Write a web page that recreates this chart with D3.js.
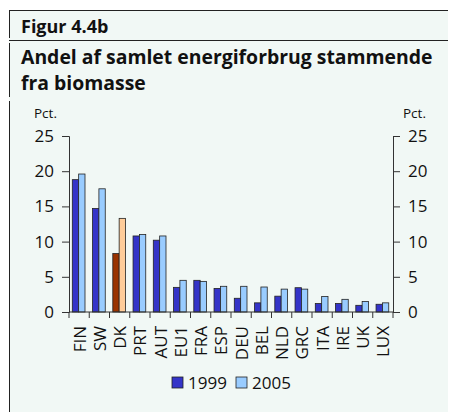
<!DOCTYPE html>
<html><head><meta charset="utf-8">
<script src="https://cdn.jsdelivr.net/npm/d3@7"></script>
<style>body{margin:0;background:#fff}svg{display:block}</style>
</head><body>
<svg id="c" width="454" height="412"></svg>
<script>
const categories = ["FIN","SW","DK","PRT","AUT","EU1","FRA","ESP","DEU","BEL","NLD","GRC","ITA","IRE","UK","LUX"];
const seriesNames = ["1999","2005"];
const values1999 = [18.8,14.7,8.3,10.8,10.2,3.5,4.5,3.35,1.95,1.3,2.25,3.45,1.2,1.2,0.95,1.1];
const values2005 = [19.6,17.5,13.3,11.0,10.8,4.5,4.35,3.65,3.65,3.55,3.25,3.25,2.2,1.8,1.5,1.3];
const yTicks = [0,5,10,15,20,25];
const highlight = "DK";

const svg = d3.select("#c");
const font = "'Open Sans', 'Noto Sans', sans-serif";
const colors = {"1999":"#3434c8","2005":"#99ccff"};
const hiColors = {"1999":"#993300","2005":"#ffcc99"};

// frame
svg.append("rect").attr("x",9).attr("y",10).attr("width",439).attr("height",402).attr("fill","#f1f8f5");
svg.append("line").attr("x1",9).attr("x2",448).attr("y1",10.5).attr("y2",10.5).attr("stroke","#222");
svg.append("line").attr("x1",9).attr("x2",448).attr("y1",40.5).attr("y2",40.5).attr("stroke","#222");
[[10,38],[43,97],[101,412]].forEach(([a,b])=>svg.append("line").attr("x1",9.5).attr("x2",9.5).attr("y1",a).attr("y2",b).attr("stroke","#222"));

svg.append("text").attr("x",21).attr("y",33).attr("font-family",font).attr("font-weight","bold").attr("font-size",18).attr("fill","#111").text("Figur 4.4b");
svg.append("text").attr("x",21).attr("y",64).attr("font-family",font).attr("font-weight","bold").attr("font-size",19.4).attr("fill","#111").text("Andel af samlet energiforbrug stammende");
svg.append("text").attr("x",21).attr("y",90).attr("font-family",font).attr("font-weight","bold").attr("font-size",19.4).attr("fill","#111").text("fra biomasse");

const x0 = d3.scaleBand().domain(categories).range([69,393]).paddingInner(0).paddingOuter(0);
const x1 = d3.scaleBand().domain(seriesNames).range([3.3, 16]);
const y = d3.scaleLinear().domain([0,25]).range([312,136]);

const g = svg.append("g");
const data = categories.map((c,i)=>({c, v:{"1999":values1999[i],"2005":values2005[i]}}));
data.forEach(d=>{
  seriesNames.forEach(s=>{
    g.append("rect")
      .attr("x", x0(d.c)+x1(s))
      .attr("y", y(d.v[s]))
      .attr("width", x1.bandwidth())
      .attr("height", y(0)-y(d.v[s]))
      .attr("fill", d.c===highlight ? hiColors[s] : colors[s])
      .attr("stroke","#222").attr("stroke-width",0.8);
  });
});

const left = svg.append("g").attr("transform","translate(69,0)")
  .call(d3.axisLeft(y).tickValues(yTicks).tickSize(7).tickPadding(8));
const right = svg.append("g").attr("transform","translate(393,0)")
  .call(d3.axisRight(y).tickValues(yTicks).tickSize(7).tickPadding(8));
[left,right].forEach(a=>{
  a.selectAll("text").attr("font-family",font).attr("font-size",17).attr("fill","#111");
  a.selectAll("line,path").attr("stroke","#333");
});

// category axis
const xa = svg.append("g").attr("transform","translate(0,312)");
xa.append("line").attr("x1",69).attr("x2",393).attr("stroke","#333");
categories.concat([null]).forEach((c,i)=>{
  const xx = 69 + i*x0.step();
  xa.append("line").attr("x1",xx).attr("x2",xx).attr("y1",0).attr("y2",6).attr("stroke","#333");
});
categories.forEach(c=>{
  xa.append("text").attr("transform",`translate(${x0(c)+x0.bandwidth()/2+6.5},14) rotate(-90)`)
    .attr("text-anchor","end").attr("font-family",font).attr("font-size",17).attr("fill","#111").text(c);
});

svg.append("text").attr("x",34).attr("y",118).attr("font-family",font).attr("font-size",13.5).attr("fill","#111").text("Pct.");
svg.append("text").attr("x",403).attr("y",118).attr("font-family",font).attr("font-size",13.5).attr("fill","#111").text("Pct.");

// legend
const lg = svg.append("g").attr("transform","translate(172,383)");
seriesNames.forEach((s,i)=>{
  const item = lg.append("g").attr("transform",`translate(${i*64},0)`);
  item.append("rect").attr("x",0).attr("y",-6).attr("width",11).attr("height",11).attr("fill",colors[s]).attr("stroke","#222").attr("stroke-width",0.8);
  item.append("text").attr("x",16).attr("y",6).attr("font-family",font).attr("font-size",17).attr("fill","#111").text(s);
});
</script>
</body></html>
